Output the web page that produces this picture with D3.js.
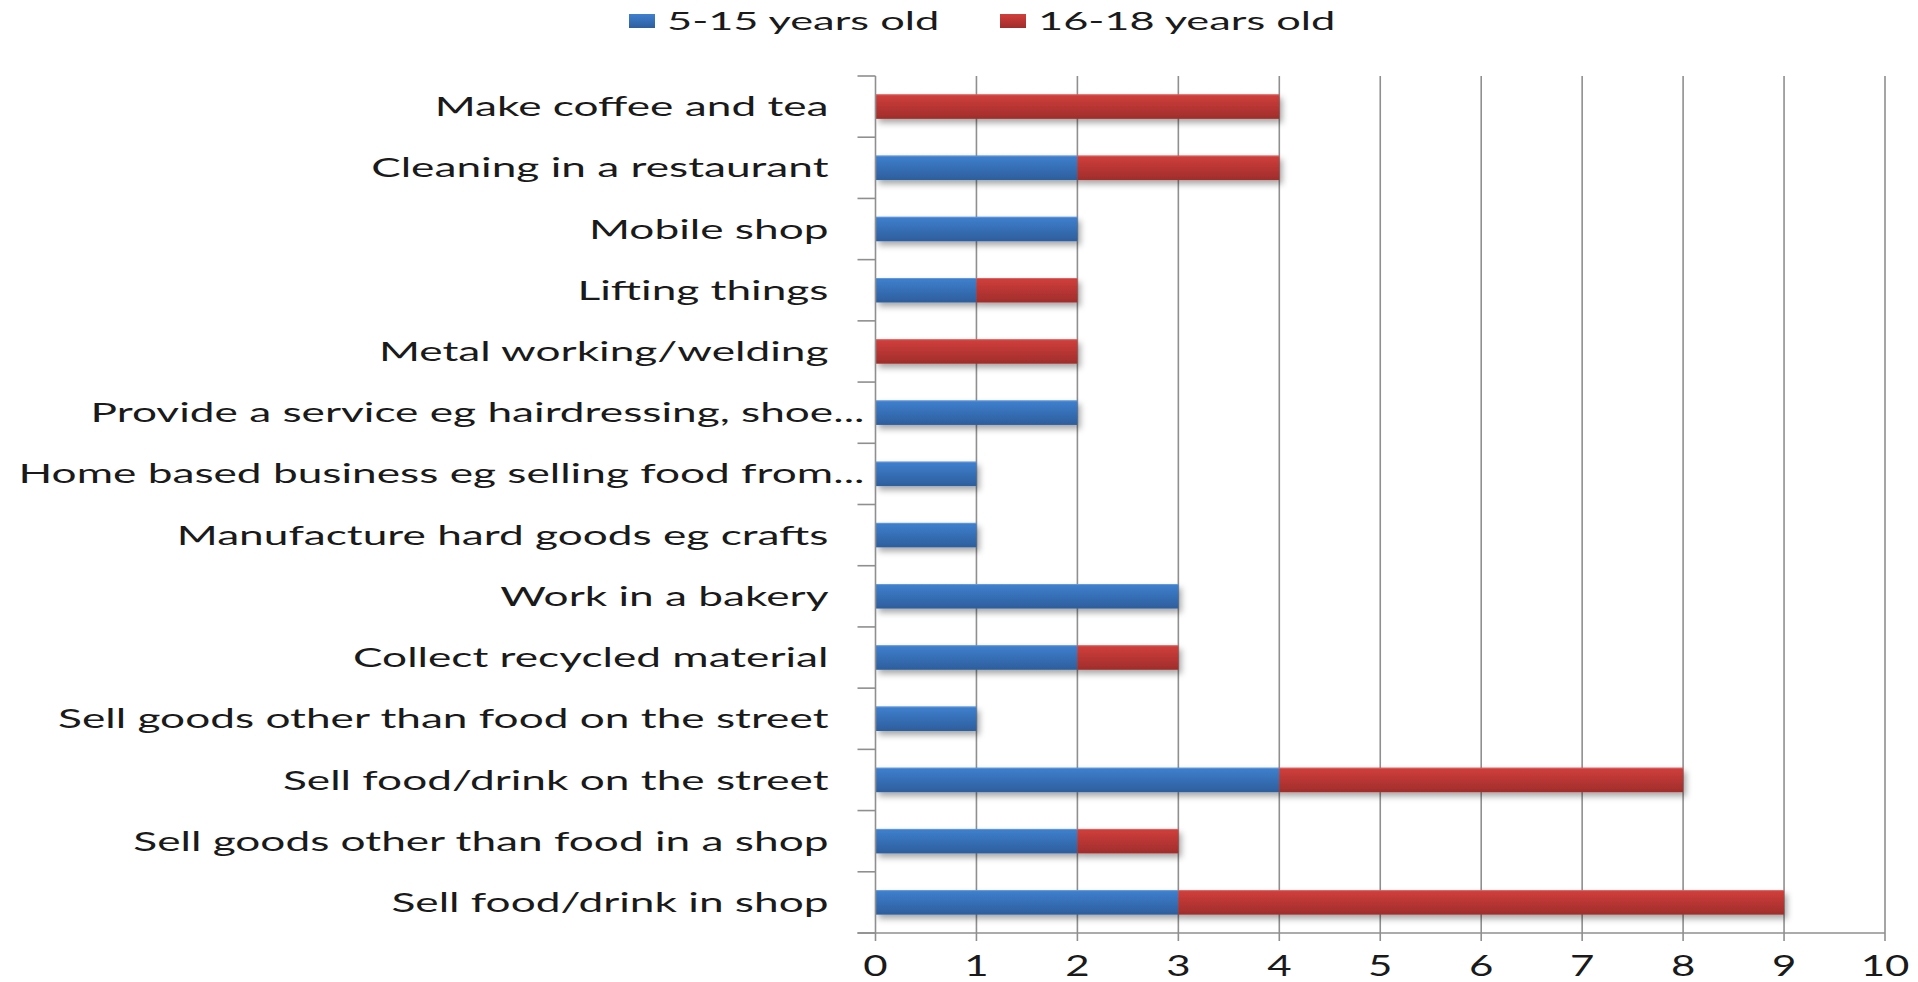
<!DOCTYPE html>
<html>
<head>
<meta charset="utf-8">
<script src="https://cdn.jsdelivr.net/npm/d3@7"></script>
<style>
  html, body { margin: 0; padding: 0; background: #ffffff; }
  svg { display: block; }
  text { font-family: Lato, "Open Sans", "Liberation Sans", sans-serif; fill: #1a1a1a; }
</style>
</head>
<body>
<script>
// ---- data (top to bottom as shown) ----
const categories = [
  "Make coffee and tea",
  "Cleaning in a restaurant",
  "Mobile shop",
  "Lifting things",
  "Metal working/welding",
  "Provide a service eg hairdressing, shoe...",
  "Home based business eg selling food from...",
  "Manufacture hard goods eg crafts",
  "Work in a bakery",
  "Collect recycled material",
  "Sell goods other than food on the street",
  "Sell food/drink on the street",
  "Sell goods other than food in a shop",
  "Sell food/drink in shop"
];
const seriesNames = ["5-15 years old", "16-18 years old"];
const age5to15  = [0, 2, 2, 1, 0, 2, 1, 1, 3, 2, 1, 4, 2, 3];
const age16to18 = [4, 2, 0, 1, 2, 0, 0, 0, 0, 1, 0, 4, 1, 6];
const xTicks = [0, 1, 2, 3, 4, 5, 6, 7, 8, 9, 10];

// ---- layout ----
const W = 1918, H = 982;
const plotLeft = 875.5, plotRight = 1885, plotTop = 76, plotBottom = 933;
const SX = 1.668; // horizontal stretch of text in the reference

const svg = d3.select("body").append("svg").attr("width", W).attr("height", H);
const defs = svg.append("defs");

const gradColors = [
  { id: "gBlue", top: "#3f80cf", bottom: "#2d5e9d" },
  { id: "gRed",  top: "#d13f3c", bottom: "#9f2d2b" }
];
gradColors.forEach(g => {
  const lg = defs.append("linearGradient").attr("id", g.id)
    .attr("x1", 0).attr("y1", 0).attr("x2", 0).attr("y2", 1);
  lg.append("stop").attr("offset", "0%").attr("stop-color", g.top);
  lg.append("stop").attr("offset", "100%").attr("stop-color", g.bottom);
});
const flt = defs.append("filter").attr("id", "shadow")
  .attr("x", "-5%").attr("y", "-50%").attr("width", "110%").attr("height", "250%");
flt.append("feDropShadow").attr("dx", 3).attr("dy", 4).attr("stdDeviation", 3)
  .attr("flood-color", "#000").attr("flood-opacity", 0.35);

const x = d3.scaleLinear().domain([0, 10]).range([plotLeft, plotRight]);
const y = d3.scaleBand().domain(categories).range([plotTop, plotBottom]).paddingInner(0.6).paddingOuter(0.3);
const step = y.step();

// gridlines
svg.append("g").selectAll("line").data(xTicks.slice(1)).join("line")
  .attr("x1", d => x(d)).attr("x2", d => x(d))
  .attr("y1", plotTop).attr("y2", plotBottom + 8)
  .attr("stroke", "#8f8f8f").attr("stroke-width", 1.6);

// stacked data
const rows = categories.map((c, i) => ({ cat: c, a: age5to15[i], b: age16to18[i] }));
const stack = d3.stack().keys(["a", "b"]);
const stacked = stack(rows);

const barsG = svg.append("g").attr("filter", "url(#shadow)");
barsG.selectAll("g.layer").data(stacked).join("g").attr("class", "layer")
  .attr("fill", (d, i) => `url(#${gradColors[i].id})`)
  .selectAll("rect").data(d => d.filter(p => p[1] - p[0] > 0)).join("rect")
  .attr("x", d => x(d[0]))
  .attr("width", d => x(d[1]) - x(d[0]))
  .attr("y", d => y(d.data.cat))
  .attr("height", y.bandwidth());

// highlight top edge
barsG.selectAll("g.layer").each(function(layer, i) {
  d3.select(this).selectAll("line.hl").data(layer.filter(p => p[1] - p[0] > 0)).join("line")
    .attr("class", "hl")
    .attr("x1", d => x(d[0])).attr("x2", d => x(d[1]))
    .attr("y1", d => y(d.data.cat) + 0.5).attr("y2", d => y(d.data.cat) + 0.5)
    .attr("stroke", i === 0 ? "#6fa3e0" : "#e07371").attr("stroke-width", 1).attr("opacity", 0.7);
});

// left axis line and category ticks
svg.append("line").attr("x1", plotLeft).attr("x2", plotLeft)
  .attr("y1", plotTop).attr("y2", plotBottom + 8)
  .attr("stroke", "#8f8f8f").attr("stroke-width", 1.6);
const boundaries = d3.range(categories.length + 1).map(k => plotTop + k * step);
svg.append("g").selectAll("line").data(boundaries).join("line")
  .attr("x1", plotLeft - 18).attr("x2", plotLeft)
  .attr("y1", d => d).attr("y2", d => d)
  .attr("stroke", "#8f8f8f").attr("stroke-width", 1.6);

// bottom axis line
svg.append("line").attr("x1", plotLeft - 18).attr("x2", plotRight)
  .attr("y1", plotBottom).attr("y2", plotBottom)
  .attr("stroke", "#8f8f8f").attr("stroke-width", 1.6);

// x tick labels
svg.append("g").selectAll("g").data(xTicks).join("g")
  .attr("transform", d => `translate(${x(d)},976) scale(1.5,1)`)
  .append("text").attr("text-anchor", "middle").attr("font-size", 28).text(d => d);

// category labels
svg.append("g").selectAll("g").data(categories).join("g")
  .attr("transform", d => `translate(${d.endsWith("...") ? plotLeft - 11 : plotLeft - 47},${y(d) + y.bandwidth() / 2}) scale(${SX},1)`)
  .append("text").attr("text-anchor", "end").attr("dy", "0.36em").attr("font-size", 26.5).text(d => d);

// legend
const legendX = [629, 1000];
const lg = svg.append("g").selectAll("g").data(seriesNames).join("g")
  .attr("transform", (d, i) => `translate(${legendX[i]},0)`);
lg.append("rect").attr("x", 0).attr("y", 14).attr("width", 26).attr("height", 14)
  .attr("fill", (d, i) => `url(#${gradColors[i].id})`);
lg.append("g").attr("transform", `translate(38,30) scale(1.7,1)`)
  .append("text").attr("font-size", 25.5).text(d => d);
</script>
</body>
</html>
